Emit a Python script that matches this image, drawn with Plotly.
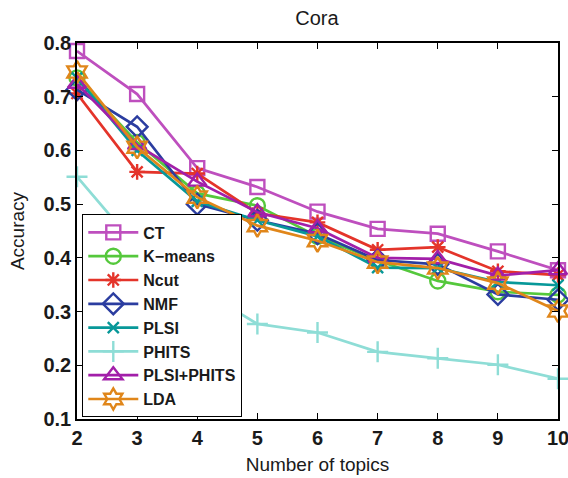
import plotly.graph_objects as go

topics = [2, 3, 4, 5, 6, 7, 8, 9, 10]
ct = [0.785, 0.705, 0.567, 0.532, 0.486, 0.454, 0.445, 0.412, 0.377]
kmeans = [0.735, 0.615, 0.52, 0.497, 0.44, 0.395, 0.357, 0.337, 0.331]
ncut = [0.706, 0.560, 0.557, 0.483, 0.466, 0.415, 0.420, 0.375, 0.368]
nmf = [0.713, 0.644, 0.500, 0.470, 0.445, 0.396, 0.388, 0.332, 0.322]
plsi = [0.735, 0.600, 0.505, 0.470, 0.440, 0.382, 0.381, 0.355, 0.349]
phits = [0.551, 0.420, 0.345, 0.277, 0.261, 0.225, 0.213, 0.201, 0.175]
plsi_phits = [0.724, 0.610, 0.542, 0.485, 0.455, 0.400, 0.398, 0.367, 0.377]
lda = [0.746, 0.606, 0.513, 0.460, 0.432, 0.392, 0.381, 0.353, 0.301]

names = ["CT", "K\u2212means", "Ncut", "NMF", "PLSI", "PHITS", "PLSI+PHITS", "LDA"]
series = [ct, kmeans, ncut, nmf, plsi, phits, plsi_phits, lda]
colors = ["#BE4FBE", "#55C83C", "#E4342A", "#2B3DA0", "#079899", "#8EDDD6", "#A21FA9", "#E0861A"]
symbols = ["square-open", "circle-open", "asterisk-open", "diamond-open", "x-thin-open",
           "cross-thin-open", "triangle-up-open", "hexagram-open"]
sizes = [14, 15, 13, 16, 11, 15, 16, 17]

fig = go.Figure()
for n, s, c, sym, sz in zip(names, series, colors, symbols, sizes):
    fig.add_trace(go.Scatter(
        x=topics, y=s, name=n, mode="lines+markers", cliponaxis=False,
        line=dict(color=c, width=2.7),
        marker=dict(symbol=sym, size=sz, color=c, line=dict(color=c, width=2.4)),
    ))

axis_common = dict(showline=True, linecolor="black", linewidth=1.5, mirror="ticks",
                   ticks="inside", ticklen=6, tickcolor="black", showgrid=False,
                   zeroline=False, automargin=False, ticklabeloverflow="allow",
                   tickfont=dict(family="Liberation Sans", size=20, color="#1a1a1a", weight="bold"))

fig.update_layout(
    width=568, height=478,
    margin=dict(l=77, r=10, t=43, b=59),
    paper_bgcolor="white", plot_bgcolor="white",
    title=dict(text="Cora", x=0.558, xanchor="center", y=0.962, yanchor="middle",
               font=dict(family="Liberation Sans", size=20, color="#1a1a1a")),
    xaxis=dict(range=[2, 10], tickvals=topics, ticktext=[str(t) for t in topics],
               title=dict(text="Number of topics", standoff=10,
                          font=dict(family="Liberation Sans", size=19, color="#1a1a1a")),
               **axis_common),
    yaxis=dict(range=[0.1, 0.8], dtick=0.1, tickformat=".1f",
               title=dict(text="Accuracy", standoff=14,
                          font=dict(family="Liberation Sans", size=19, color="#1a1a1a")),
               **axis_common),
    legend=dict(x=0.011, y=0.004, xanchor="left", yanchor="bottom",
                bgcolor="white", bordercolor="black", borderwidth=1,
                font=dict(family="Liberation Sans", size=16, color="#1a1a1a", weight="bold"),
                itemwidth=50, tracegroupgap=0),
    showlegend=True,
)

fig.write_html("out.html")
